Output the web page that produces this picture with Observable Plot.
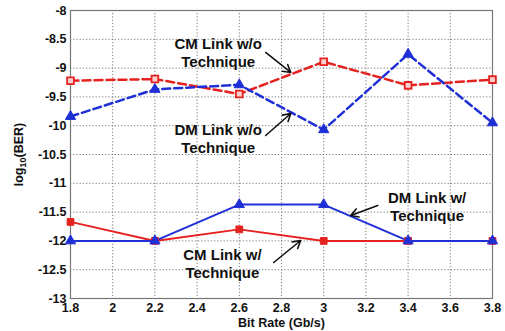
<!DOCTYPE html>
<html><head><meta charset="utf-8">
<script src="https://cdn.jsdelivr.net/npm/d3@7"></script>
<script src="https://cdn.jsdelivr.net/npm/@observablehq/plot@0.6"></script>
<style>
html,body{margin:0;padding:0;background:#fff;}
</style>
</head><body>
<div id="chart"></div>
<script>
const bitRates = [1.8, 2.2, 2.6, 3.0, 3.4, 3.8];
const cmWithout = [-9.22, -9.19, -9.45, -8.89, -9.30, -9.20];
const dmWithout = [-9.84, -9.37, -9.29, -10.07, -8.76, -9.95];
const cmWith = [-11.67, -12, -11.80, -12, -12, -12];
const dmWith = [-12, -12, -11.37, -11.37, -12, -12];
const xTicks = [1.8, 2.0, 2.2, 2.4, 2.6, 2.8, 3.0, 3.2, 3.4, 3.6, 3.8];
const yTicks = [-8, -8.5, -9, -9.5, -10, -10.5, -11, -11.5, -12, -12.5, -13];
const labelTexts = ["CM Link w/o\nTechnique", "DM Link w/o\nTechnique", "CM Link w/\nTechnique", "DM Link w/\nTechnique"];
const labelX = [2.50, 2.50, 2.52, 3.49];
const labelY = [-8.72, -10.22, -12.38, -11.40];
const arrowX1 = [2.725, 2.725, 2.763, 3.256];
const arrowY1 = [-8.729, -10.170, -12.375, -11.385];
const arrowX2 = [2.844, 2.844, 2.891, 3.128];
const arrowY2 = [-9.076, -9.788, -11.993, -11.559];

const red = "#e5221f", blue = "#1f2fd6";
const series = (ys) => bitRates.map((x, i) => ({x, y: ys[i]}));
const labels = labelTexts.map((t, i) => ({t, x: labelX[i], y: labelY[i]}));
const arrows = arrowX1.map((_, i) => ({x1: arrowX1[i], y1: arrowY1[i], x2: arrowX2[i], y2: arrowY2[i]}));
const fmt = d => String(+d.toFixed(1));

const plot = Plot.plot({
  width: 505, height: 331,
  marginLeft: 70, marginRight: 13, marginTop: 10, marginBottom: 33,
  style: {fontFamily: "Liberation Sans, Arial, sans-serif", fontWeight: "bold", fontSize: "12.5px", color: "#111", background: "#fff"},
  x: {domain: [1.8, 3.8], ticks: xTicks, tickFormat: fmt, label: "Bit Rate (Gb/s)", labelAnchor: "center", labelArrow: "none", tickSize: 0, tickPadding: 5, labelOffset: 28},
  y: {domain: [-13, -8], ticks: yTicks, tickFormat: fmt, label: "log10(BER)", labelAnchor: "center", labelArrow: "none", tickSize: 0, tickPadding: 4, labelOffset: 56},
  marks: [
    Plot.gridX(xTicks, {stroke: "#777", strokeOpacity: 1, strokeDasharray: "1.2,2"}),
    Plot.gridY(yTicks, {stroke: "#777", strokeOpacity: 1, strokeDasharray: "1.2,2"}),
    Plot.frame({stroke: "#777", strokeWidth: 1.2}),
    Plot.line(series(cmWithout), {x: "x", y: "y", stroke: red, strokeWidth: 2.5, strokeDasharray: "8,4"}),
    Plot.line(series(dmWithout), {x: "x", y: "y", stroke: blue, strokeWidth: 2.5, strokeDasharray: "8,4"}),
    Plot.line(series(cmWith), {x: "x", y: "y", stroke: red, strokeWidth: 2}),
    Plot.line(series(dmWith), {x: "x", y: "y", stroke: blue, strokeWidth: 2}),
    Plot.dot(series(cmWithout), {x: "x", y: "y", symbol: "square", r: 3.8, stroke: red, strokeWidth: 1.8, fill: "#fbd0d0"}),
    Plot.dot(series(dmWithout), {x: "x", y: "y", symbol: "triangle", r: 3.8, fill: blue, stroke: blue, strokeWidth: 1}),
    Plot.dot(series(cmWith), {x: "x", y: "y", symbol: "square", r: 3.8, fill: red, stroke: red, strokeWidth: 1}),
    Plot.dot(series(dmWith), {x: "x", y: "y", symbol: "triangle", r: 3.8, fill: blue, stroke: blue, strokeWidth: 1}),
    Plot.arrow(arrows, {x1: "x1", y1: "y1", x2: "x2", y2: "y2", stroke: "#111", strokeWidth: 1.6, headLength: 8}),
    Plot.text(labels, {x: "x", y: "y", text: "t", fontSize: 15, fontWeight: "bold", fill: "#111", lineHeight: 1.2, textAnchor: "middle"})
  ]
});
document.getElementById("chart").appendChild(plot);

// subscript in y label
d3.select(plot).selectAll("text").each(function() {
  if (this.textContent === "log10(BER)") {
    const t = d3.select(this);
    t.text(null);
    t.append("tspan").text("log");
    t.append("tspan").attr("font-size", "9px").attr("dy", "3").text("10");
    t.append("tspan").attr("dy", "-3").text("(BER)");
  }
});
</script>
</body></html>
